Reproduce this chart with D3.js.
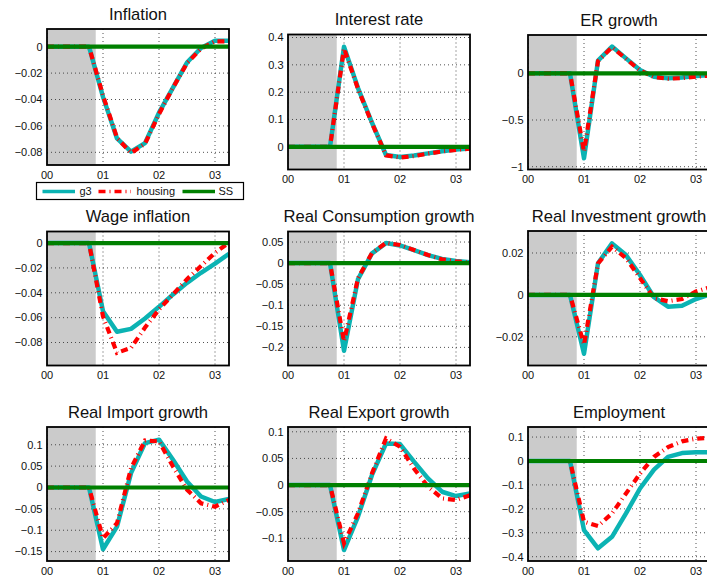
<!DOCTYPE html>
<html>
<head>
<meta charset="utf-8">
<script src="https://cdn.jsdelivr.net/npm/d3@7"></script>
<style>
  html, body { margin: 0; padding: 0; background: #fff; }
  svg { display: block; font-family: "Liberation Sans", Arial, Helvetica, sans-serif; }
</style>
</head>
<body>
<svg id="chart" width="707" height="580"></svg>
<script>
// Quarterly horizon, in years after the start of the simulation
const quarters = [0, 0.25, 0.5, 0.75, 1, 1.25, 1.5, 1.75, 2, 2.25, 2.5, 2.75, 3, 3.25];
const xTickValues = [0, 1, 2, 3];
const xTickLabels = ["00", "01", "02", "03"];
const shadedUntil = 0.87;

const titles = ["Inflation", "Interest rate", "ER growth",
                "Wage inflation", "Real Consumption growth", "Real Investment growth",
                "Real Import growth", "Real Export growth", "Employment"];

const seriesNames = ["g3", "housing", "SS"];

// Steady state
const ssValues = [0, 0, 0, 0, 0, 0, 0, 0, 0, 0, 0, 0, 0, 0];

// g3 model responses
const inflationG3 = [0, 0, 0, 0, -0.038, -0.0695, -0.0795, -0.073, -0.05, -0.031, -0.012, -0.001, 0.0045, 0.0045];
const interestG3 = [0, 0, 0, 0, 0.366, 0.215, 0.088, -0.03, -0.037, -0.032, -0.024, -0.016, -0.010, -0.006];
const erGrowthG3 = [0, 0, 0, 0, -0.91, 0.136, 0.286, 0.16, 0.036, -0.036, -0.054, -0.046, -0.03, -0.02];
const wageG3 = [0, 0, 0, 0, -0.0548, -0.0714, -0.069, -0.0607, -0.0513, -0.0413, -0.032, -0.0239, -0.0166, -0.0086];
const consumptionG3 = [0, 0, 0, 0, -0.208, -0.038, 0.023, 0.0475, 0.042, 0.031, 0.019, 0.010, 0.005, 0.002];
const investmentG3 = [0, 0, 0, 0, -0.0281, 0.0151, 0.0246, 0.019, 0.0095, -0.0011, -0.0056, -0.0052, -0.002, 0.0003];
const importG3 = [0, 0, 0, 0, -0.1445, -0.0914, 0.0336, 0.104, 0.112, 0.0648, 0.014, -0.021, -0.034, -0.027];
const exportG3 = [0, 0, 0, 0, -0.122, -0.059, 0.019, 0.078, 0.077, 0.044, 0.0125, -0.0125, -0.0206, -0.0156];
const employmentG3 = [0, 0, 0, 0, -0.289, -0.365, -0.317, -0.219, -0.115, -0.036, 0.017, 0.033, 0.036, 0.036];

// housing model responses
const inflationHousing = [0, 0, 0, 0, -0.037, -0.069, -0.0805, -0.0735, -0.051, -0.031, -0.0125, -0.0015, 0.004, 0.004];
const interestHousing = [0, 0, 0, 0, 0.36, 0.212, 0.086, -0.031, -0.039, -0.034, -0.025, -0.017, -0.011, -0.007];
const erGrowthHousing = [0, 0, 0, 0, -0.84, 0.13, 0.28, 0.155, 0.03, -0.04, -0.058, -0.052, -0.036, -0.025];
const wageHousing = [0, 0, 0, 0, -0.059, -0.0883, -0.0843, -0.068, -0.0534, -0.0413, -0.029, -0.0185, -0.0078, 0.0003];
const consumptionHousing = [0, 0, 0, 0, -0.186, -0.036, 0.024, 0.048, 0.043, 0.031, 0.019, 0.009, 0.004, 0.001];
const investmentHousing = [0, 0, 0, 0, -0.0238, 0.015, 0.023, 0.0175, 0.008, -0.0016, -0.003, -0.002, 0.0016, 0.0037];
const importHousing = [0, 0, 0, 0, -0.119, -0.0836, 0.045, 0.11, 0.108, 0.049, -0.005, -0.037, -0.045, -0.029];
const exportHousing = [0, 0, 0, 0, -0.109, -0.053, 0.022, 0.0875, 0.072, 0.031, -0.003, -0.025, -0.028, -0.019];
const employmentHousing = [0, 0, 0, 0, -0.254, -0.272, -0.219, -0.136, -0.053, 0.017, 0.058, 0.082, 0.093, 0.097];

// Axis limits and ticks per panel
const yLower = [-0.0896, -0.083, -1.03, -0.0985, -0.243, -0.0337, -0.172, -0.1425, -0.418];
const yUpper = [0.0134, 0.411, 0.41, 0.0093, 0.075, 0.0305, 0.1416, 0.109, 0.142];
const yTickSets = [
  [0, -0.02, -0.04, -0.06, -0.08],
  [0, 0.1, 0.2, 0.3, 0.4],
  [-1, -0.5, 0],
  [0, -0.02, -0.04, -0.06, -0.08],
  [0.05, 0, -0.05, -0.1, -0.15, -0.2],
  [0.02, 0, -0.02],
  [0.1, 0.05, 0, -0.05, -0.1, -0.15],
  [0.1, 0.05, 0, -0.05, -0.1],
  [0.1, 0, -0.1, -0.2, -0.3, -0.4]
];

const g3Series = [inflationG3, interestG3, erGrowthG3, wageG3, consumptionG3, investmentG3, importG3, exportG3, employmentG3];
const housingSeries = [inflationHousing, interestHousing, erGrowthHousing, wageHousing, consumptionHousing, investmentHousing, importHousing, exportHousing, employmentHousing];

// ---- layout ----
const panelWidth = 182;
const boxes = [
  { left: 47,  top: 29,    bottom: 165 },
  { left: 288, top: 34.5,  bottom: 169.5 },
  { left: 528, top: 35,    bottom: 169.5 },
  { left: 47,  top: 231.5, bottom: 365.5 },
  { left: 288, top: 231.5, bottom: 365.5 },
  { left: 528, top: 231,   bottom: 365.5 },
  { left: 47,  top: 427,   bottom: 561 },
  { left: 288, top: 427,   bottom: 561 },
  { left: 528, top: 427,   bottom: 561 }
];

const colors = { g3: "#0bb3b3", housing: "#ff0000", ss: "#008000", shade: "#cbcbcb" };
const redDash = "7,4,1,4";

const fmt = v => v === 0 ? "0" : (v < 0 ? "\u2212" : "") + String(Math.abs(v));

const svg = d3.select("#chart");

titles.forEach((title, i) => {
  const b = boxes[i];
  const h = b.bottom - b.top;
  const x = d3.scaleLinear().domain([0, 3.25]).range([0, panelWidth]);
  const y = d3.scaleLinear().domain([yLower[i], yUpper[i]]).range([h, 0]);

  const g = svg.append("g").attr("transform", `translate(${b.left},${b.top})`);

  g.append("clipPath").attr("id", "clip" + i)
    .append("rect").attr("width", panelWidth).attr("height", h);

  const inner = g.append("g").attr("clip-path", `url(#clip${i})`);

  // shaded pre-shock window
  inner.append("rect")
    .attr("x", x(0)).attr("y", 0)
    .attr("width", x(shadedUntil) - x(0)).attr("height", h)
    .attr("fill", colors.shade);

  // dotted grid
  inner.selectAll(".gx").data(xTickValues).enter().append("line")
    .attr("x1", d => x(d)).attr("x2", d => x(d))
    .attr("y1", 0).attr("y2", h)
    .attr("stroke", "#333").attr("stroke-width", 1)
    .attr("stroke-dasharray", "1,3").attr("opacity", 0.85);
  inner.selectAll(".gy").data(yTickSets[i]).enter().append("line")
    .attr("x1", 0).attr("x2", panelWidth)
    .attr("y1", d => y(d)).attr("y2", d => y(d))
    .attr("stroke", "#333").attr("stroke-width", 1)
    .attr("stroke-dasharray", "1,3").attr("opacity", 0.85);

  const line = d3.line().x((d, k) => x(quarters[k])).y(d => y(d));

  inner.append("path").datum(g3Series[i])
    .attr("d", line).attr("fill", "none")
    .attr("stroke", colors.g3).attr("stroke-width", 4.5)
    .attr("stroke-linejoin", "round");

  inner.append("path").datum(housingSeries[i])
    .attr("d", line).attr("fill", "none")
    .attr("stroke", colors.housing).attr("stroke-width", 4.2)
    .attr("stroke-dasharray", redDash);

  inner.append("path").datum(ssValues)
    .attr("d", line).attr("fill", "none")
    .attr("stroke", colors.ss).attr("stroke-width", 4.2);

  // axes box
  g.append("rect")
    .attr("width", panelWidth).attr("height", h)
    .attr("fill", "none").attr("stroke", "#000").attr("stroke-width", 1.8);

  // tick labels
  g.selectAll(".yl").data(yTickSets[i]).enter().append("text")
    .attr("x", -4.5).attr("y", d => y(d)).attr("dy", "0.35em")
    .attr("text-anchor", "end").attr("font-size", 11).attr("fill", "#111")
    .text(fmt);
  g.selectAll(".xl").data(xTickValues).enter().append("text")
    .attr("x", d => x(d)).attr("y", h + 13.8)
    .attr("text-anchor", "middle").attr("font-size", 11).attr("fill", "#111")
    .text((d, k) => xTickLabels[k]);

  // title
  g.append("text")
    .attr("x", panelWidth / 2).attr("y", -9.5)
    .attr("text-anchor", "middle").attr("font-size", 16.6).attr("fill", "#111")
    .text(title);
});

// legend under the first panel
const legend = svg.append("g").attr("transform", "translate(36.5,182.5)");
legend.append("rect").attr("width", 207).attr("height", 17)
  .attr("fill", "#fff").attr("stroke", "#000").attr("stroke-width", 1.2);
const legendItems = [
  { name: seriesNames[0], color: colors.g3, dash: null, x0: 6, tx: 43 },
  { name: seriesNames[1], color: colors.housing, dash: redDash, x0: 62, tx: 100 },
  { name: seriesNames[2], color: colors.ss, dash: null, x0: 146, tx: 182 }
];
legendItems.forEach(it => {
  legend.append("line")
    .attr("x1", it.x0).attr("x2", it.x0 + 32.5).attr("y1", 9).attr("y2", 9)
    .attr("stroke", it.color).attr("stroke-width", 3.6)
    .attr("stroke-dasharray", it.dash);
  legend.append("text")
    .attr("x", it.tx).attr("y", 9).attr("dy", "0.36em")
    .attr("font-size", 11).attr("fill", "#111")
    .text(it.name);
});
</script>
</body>
</html>
